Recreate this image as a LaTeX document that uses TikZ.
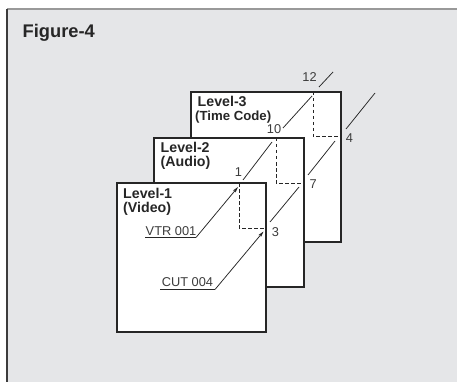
\documentclass[tikz,border=0pt]{standalone}
\usepackage{fontspec}
\setmainfont{Liberation Sans}
\usetikzlibrary{arrows.meta}
\definecolor{panel}{HTML}{E5E6E8}
\definecolor{ink}{HTML}{262626}
\definecolor{numgray}{HTML}{3C3C3C}
\tikzset{
  layer/.style={draw=ink, line width=1.8pt, fill=white},
  lvltext/.style={inner sep=0pt, anchor=base west, text=ink, font=\fontsize{14.2}{14}\selectfont\bfseries},
  numtext/.style={inner sep=0pt, anchor=base, text=numgray, font=\fontsize{12.8}{14}\selectfont},
  captext/.style={inner sep=0pt, anchor=base, text=numgray, font=\fontsize{12.8}{14}\selectfont},
  link/.style={draw=ink, line width=0.75pt},
  marker/.style={draw=ink, line width=1pt, dash pattern=on 3.5pt off 2.5pt},
  pointer/.style={draw=ink, line width=0.75pt, -{Stealth[length=6pt,width=3.2pt,inset=1.5pt]}},
}
\begin{document}
\begin{tikzpicture}[x=1pt,y=-1pt]
\useasboundingbox (0,0) rectangle (457,382);
% panel
\fill[panel] (7,9) rectangle (457,382);
\draw[draw=gray!80, line width=1.2pt] (7,9) -- (457,9);
\draw[draw=ink!90, line width=1.4pt] (7,9) -- (7,382);
\node[lvltext, font=\fontsize{18.3}{20}\selectfont\bfseries] (title) at (22.5,37.5) {Figure-4};

% layers
\path[layer] (191,92) rectangle (341,242);
\path[layer] (154,138) rectangle (304,287);
\path[layer] (117,183) rectangle (266,332);

% named points
\coordinate (E1) at (239,183); \coordinate (X1) at (266,228);
\coordinate (E2) at (276,138); \coordinate (X2) at (304,183);
\coordinate (E3) at (313,92);  \coordinate (X3) at (341,137);
\coordinate (C1) at (239,228); \coordinate (C2) at (276,183); \coordinate (C3) at (313,137);

% dashed markers
\draw[marker] (E1) -- (C1) -- (X1);
\draw[marker] (E2) -- (C2) -- (X2);
\draw[marker] (E3) -- (C3) -- (X3);

% level labels
\node[lvltext] (l1a) at (123,198.3) {Level-1};
\node[lvltext] (l1b) at (123,212.5) {(Video)};
\node[lvltext] (l2a) at (160.5,153) {Level-2};
\node[lvltext] (l2b) at (160.5,167) {(Audio)};
\node[lvltext] (l3a) at (197.5,106.5) {Level-3};
\node[lvltext, font=\fontsize{13.2}{14}\selectfont\bfseries] (l3b) at (195,120.7) {(Time Code)};

% numbers
\node[numtext] (n1) at (238.5,176) {1};
\node[numtext] (n10) at (274,134) {10};
\node[numtext] (n12) at (309.5,81.7) {12};
\node[numtext] (n4) at (349.5,142.7) {4};
\node[numtext] (n7) at (313.3,188) {7};
\node[numtext] (n3) at (275.5,236.7) {3};

% link lines
\coordinate (a1) at (243,180); \coordinate (b1) at (272,142);
\coordinate (a2) at (283,128); \coordinate (b2) at (312,96);
\coordinate (a3) at (319,87);  \coordinate (b3) at (333,72);
\coordinate (a4) at (270,222); \coordinate (b4) at (299,187);
\coordinate (a5) at (308,175); \coordinate (b5) at (335,141);
\coordinate (a6) at (346,129); \coordinate (b6) at (375,93);
\draw[link] (a1) -- (b1);
\draw[link] (a2) -- (b2);
\draw[link] (a3) -- (b3);
\draw[link] (a4) -- (b4);
\draw[link] (a5) -- (b5);
\draw[link] (a6) -- (b6);

% callouts
\node[captext] (vtr) at (171,235) {VTR 001};
\node[captext] (cut) at (187.5,286) {CUT 004};
\coordinate (v0) at (145,237.5); \coordinate (v1) at (196,237.5); \coordinate (vt) at (238,187);
\coordinate (c0) at (160,289.5); \coordinate (c1) at (215,289.5); \coordinate (ct) at (263.5,231.5);
\draw[link] (v0) -- (v1);
\draw[pointer] (v1) -- (vt);
\draw[link] (c0) -- (c1);
\draw[pointer] (c1) -- (ct);
\end{tikzpicture}
\end{document}
